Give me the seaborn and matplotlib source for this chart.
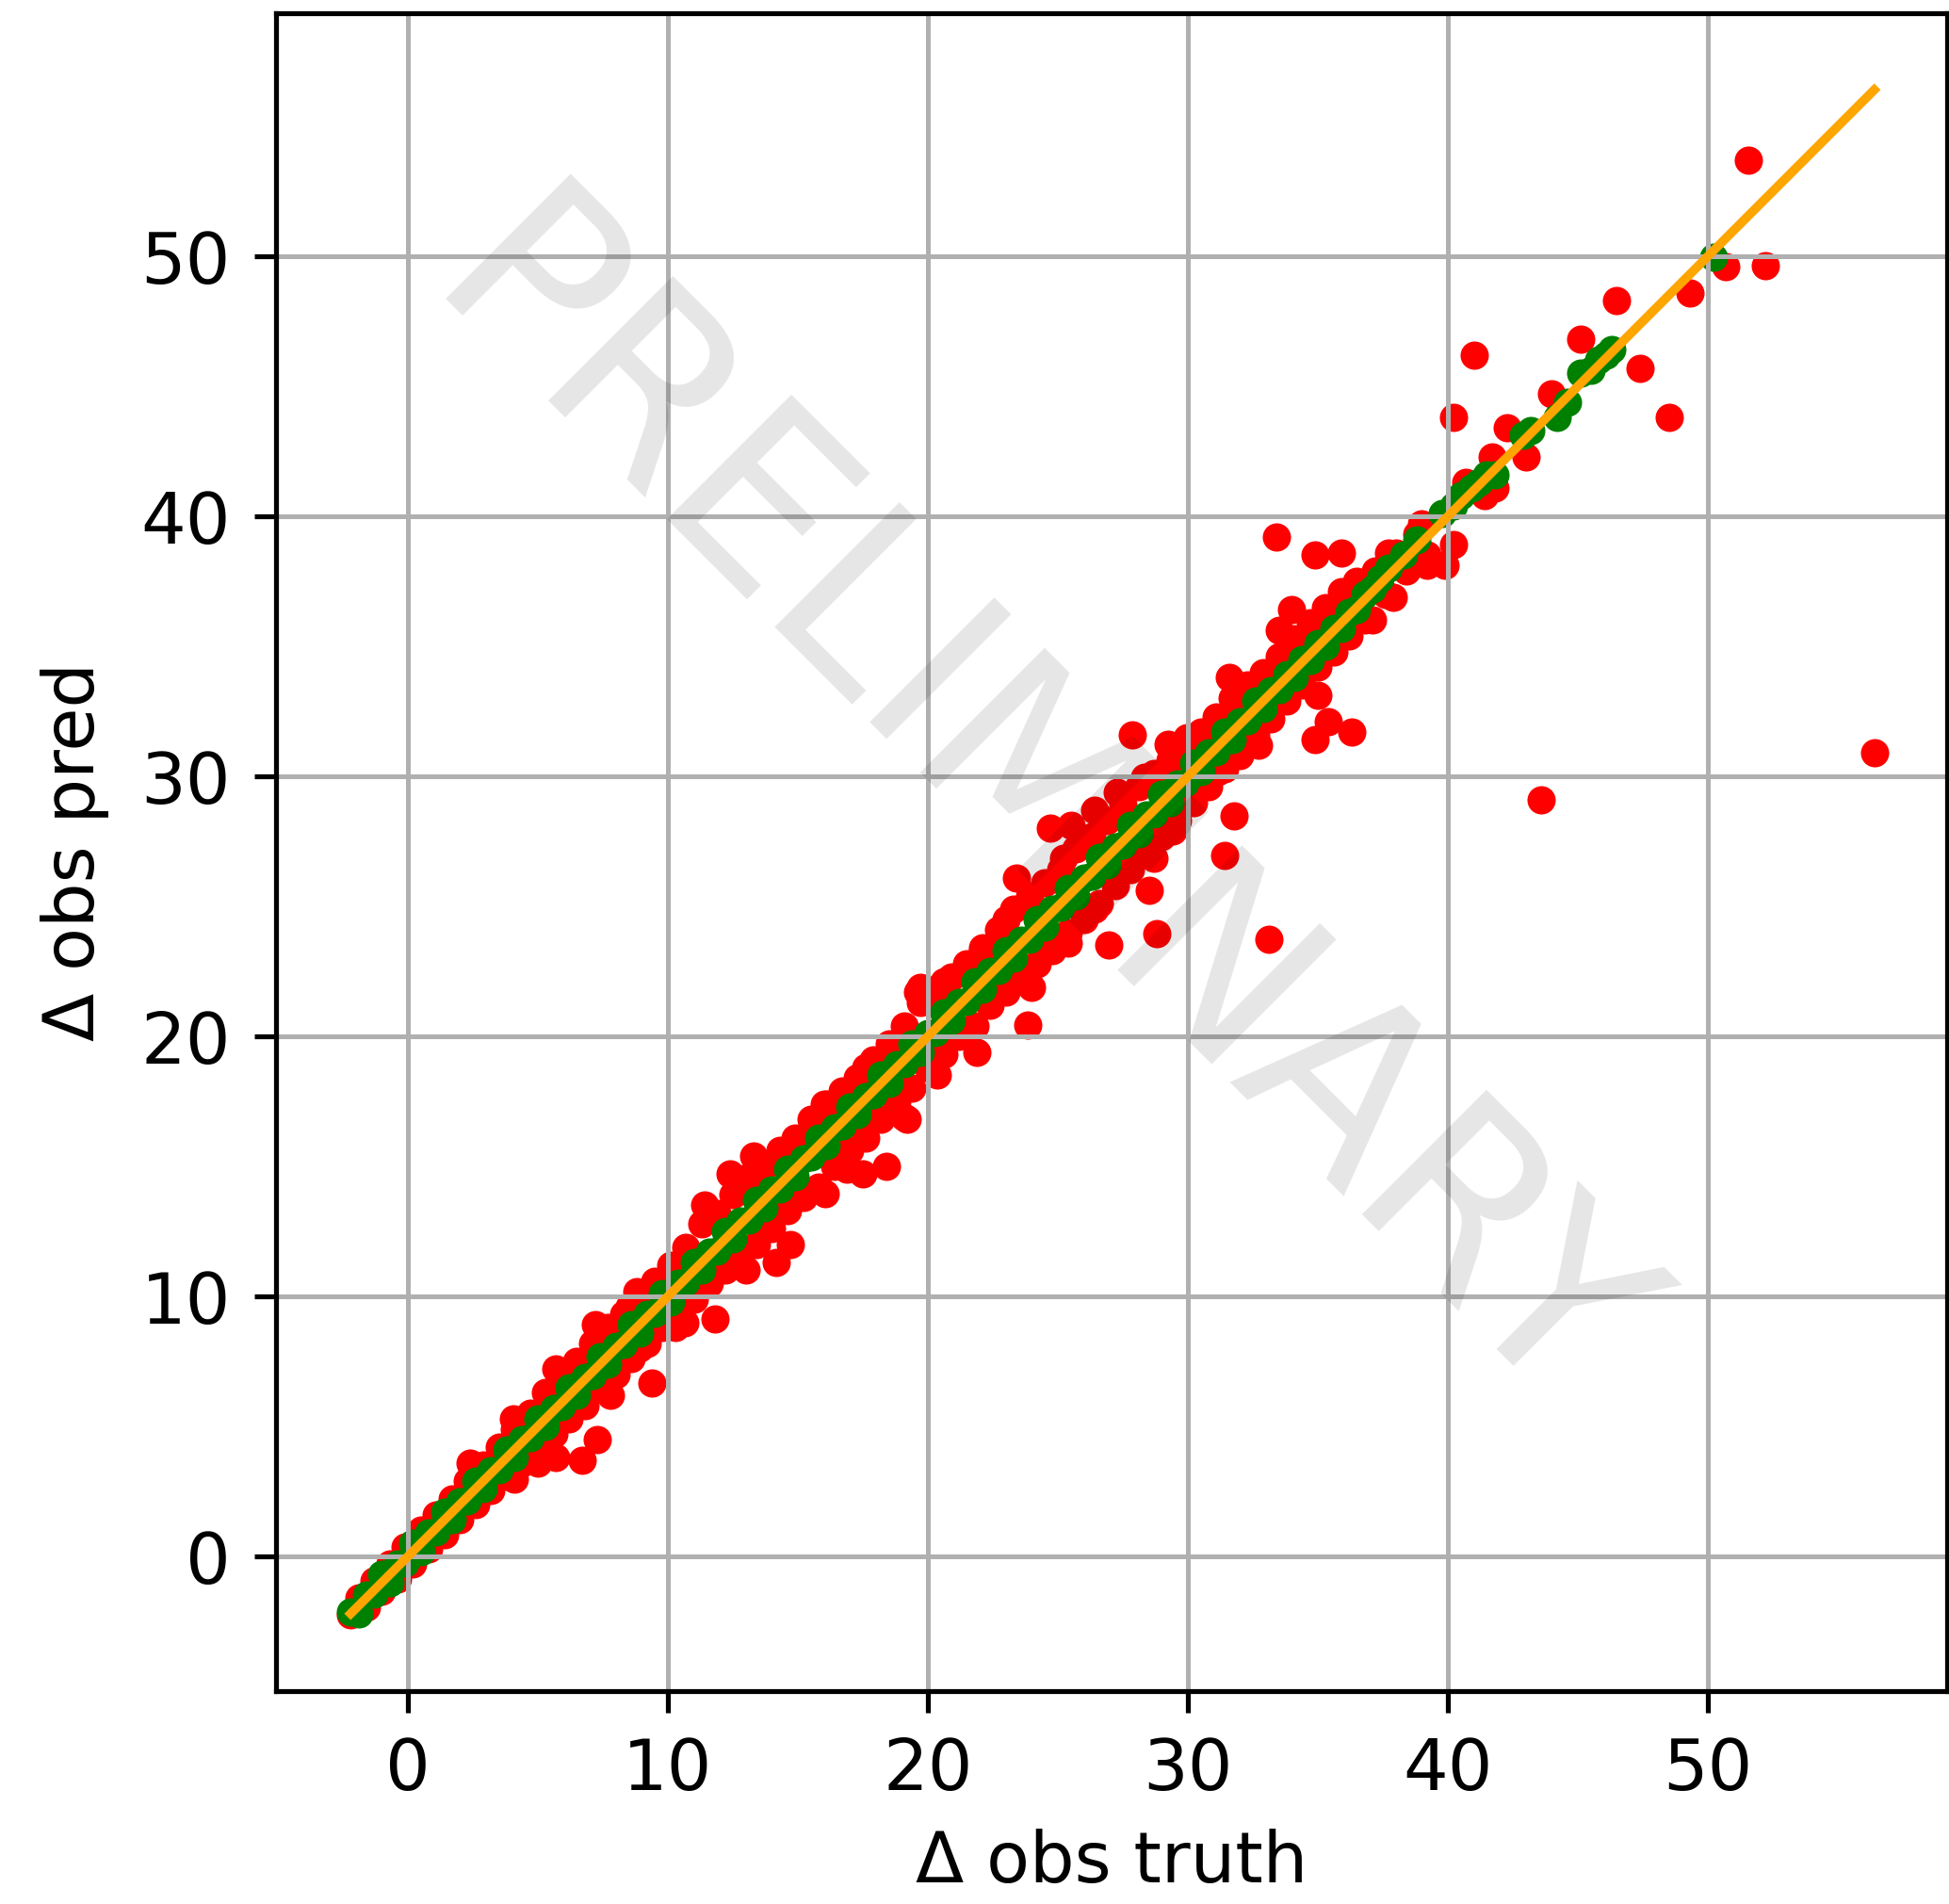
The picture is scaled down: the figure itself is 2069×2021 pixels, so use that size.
import matplotlib
matplotlib.use("Agg")
import matplotlib.pyplot as plt
import seaborn as sns

# ---------------- data ----------------
# dense band of red points around the diagonal
band_truth = [-2.2, -1.9, -1.6, -1.3, -1.0, -0.7, -0.4, -0.1, 0.2, 0.5, 0.8, 1.1, 1.4, 1.7, 2.0, 2.3,
              2.6, 2.9, 3.2, 3.5, 3.8, 4.1, 4.4, 4.7, 5.0, 5.3, 5.6, 5.9, 6.2, 6.5, 6.8, 7.1, 7.4, 7.7,
              8.0, 8.3, 8.6, 8.9, 9.2, 9.5, 9.8, 10.1, 10.4, 10.7, 11.0, 11.3, 11.6, 11.9, 12.2, 12.5,
              12.8, 13.1, 13.4, 13.7, 14.0, 14.3, 14.6, 14.9, 15.2, 15.5, 15.8, 16.1, 16.4, 16.7, 17.0,
              17.3, 17.6, 17.9, 18.2, 18.5, 18.8, 19.1, 19.4, 19.7, 20.0, 20.3, 20.6, 20.9, 21.2, 21.5,
              21.8, 22.1, 22.4, 22.7, 23.0, 23.3, 23.6, 23.9, 24.2, 24.5, 24.8, 25.1, 25.4, 25.7, 26.0,
              26.3, 26.6, 26.9, 27.2, 27.5, 27.8, 28.1, 28.4, 28.7, 29.0, 29.3, 29.6, 29.9, 30.2, 30.5,
              30.8, 31.1, 31.4, 31.7, 32.0, 32.3, 32.6, 32.9, 33.2, 33.5, 33.8, 34.1, 34.4, 34.7, 35.0,
              35.3, 35.6, 35.9, 36.2, 36.5, 36.8, 37.2, 37.6, 38.0, 38.4, 38.8, 39.2]
band_pred = [-2.25, -1.6, -1.95, -0.95, -1.35, -0.3, -0.85, 0.35, -0.3, 1.0, 0.3, 1.6, 0.85, 2.2, 1.4, 2.9,
             2.0, 3.5, 2.55, 4.2, 3.1, 4.9, 3.6, 5.5, 4.2, 6.3, 4.7, 7.0, 5.3, 7.5, 5.8, 8.2, 6.5, 8.8,
             7.0, 9.3, 7.6, 10.0, 8.2, 10.6, 8.8, 11.2, 9.3, 11.9, 9.9, 12.8, 10.5, 13.2, 11.0, 13.9,
             11.5, 14.6, 12.0, 15.0, 12.6, 15.5, 13.3, 16.1, 13.8, 16.8, 14.2, 17.4, 15.0, 17.9, 15.6,
             18.4, 16.1, 19.1, 16.8, 19.7, 17.5, 20.4, 18.0, 21.3, 18.8, 21.8, 19.3, 22.3, 20.0, 22.8,
             20.4, 23.4, 21.2, 24.1, 21.7, 24.9, 22.3, 25.4, 22.8, 25.9, 23.3, 26.4, 24.0, 27.2, 24.5,
             27.7, 25.1, 28.3, 25.8, 28.9, 26.4, 29.6, 27.0, 30.1, 27.7, 30.6, 28.3, 31.2, 29.0, 31.7,
             29.6, 32.3, 30.3, 33.0, 30.8, 33.5, 31.6, 34.0, 32.2, 34.6, 32.9, 35.3, 33.5, 35.9, 34.2,
             36.5, 34.8, 37.1, 35.4, 37.5, 36.0, 37.9, 37.0, 38.6, 37.9, 39.3, 38.5]

# scattered red outliers
out_truth = [51.55, 52.2, 50.7, 49.3, 46.5, 45.1, 47.4, 48.5, 41.0, 40.2, 44.0, 42.3, 43.0, 56.4, 43.6,
             33.4, 34.9, 35.9, 36.3, 34.9, 35.4, 35.0, 34.0, 33.5, 32.7, 37.1, 37.9, 39.2, 39.9, 40.2,
             39.0, 37.7, 40.7, 41.4, 41.8, 41.7, 33.1, 31.6, 31.76, 31.4, 31.15, 30.2,
             27.85, 29.24, 29.96, 28.33, 29.43, 28.7, 28.5, 28.8, 26.95, 25.4, 26.4, 25.5, 24.7, 25.2,
             23.4, 23.84, 23.4, 24.0, 21.9, 27.3, 27.6, 26.4, 23.0, 22.1, 20.6,
             20.35, 19.6, 19.7, 19.1, 19.2, 18.4, 17.5, 17.6, 16.0, 16.05, 16.9, 14.7, 14.15, 13.0,
             13.3, 14.3, 12.4, 11.8, 11.4, 10.65, 10.3, 9.4, 8.9, 8.8, 8.5, 7.8, 7.3, 7.2, 6.7, 5.7,
             5.7, 5.26, 5.0, 4.06, 4.1, 2.4]
out_pred = [53.7, 49.65, 49.6, 48.6, 48.3, 46.8, 45.7, 43.8, 46.2, 43.8, 44.7, 43.4, 42.3, 30.9, 29.1,
            39.2, 38.5, 38.6, 31.7, 31.4, 32.1, 33.1, 36.4, 35.6, 31.2, 36.0, 36.9, 38.1, 38.1, 38.9,
            39.7, 38.6, 41.3, 40.8, 41.1, 42.3, 23.75, 33.8, 28.48, 26.95, 30.2, 29.2,
            31.6, 31.25, 31.5, 29.96, 27.9, 26.85, 25.6, 23.94, 23.5, 23.6, 28.7, 28.1, 28.0, 26.85,
            26.1, 20.45, 22.2, 21.9, 19.4, 29.4, 26.4, 24.9, 24.5, 23.3, 22.1,
            18.5, 21.7, 21.9, 16.87, 16.8, 15.0, 14.7, 18.8, 17.4, 13.95, 14.9, 12.0, 11.3, 11.0,
            15.4, 15.6, 14.7, 9.13, 13.5, 9.0, 8.8, 6.67, 8.0, 10.2, 9.6, 6.2, 4.5, 8.9, 3.7, 3.8,
            7.2, 5.64, 3.6, 5.3, 2.97, 3.6]

# points whose prediction matches the truth (green)
green_truth = [-2.2, -1.9, -1.6, -1.3, -1.0, -0.7, -0.4, -0.1, 0.2, 0.5, 0.8, 1.1, 1.4, 1.7, 2.0, 2.3,
               2.6, 2.9, 3.2, 3.5, 3.8, 4.1, 4.4, 4.7, 5.0, 5.3, 5.6, 5.9, 6.2, 6.5, 6.8, 7.1, 7.4,
               7.7, 8.0, 8.3, 8.6, 8.9, 9.2, 9.5, 9.8, 10.1, 10.4, 10.7, 11.0, 11.3, 11.6, 11.9, 12.2,
               12.5, 12.8, 13.1, 13.4, 13.7, 14.0, 14.3, 14.6, 14.9, 15.2, 15.5, 15.8, 16.1, 16.4,
               16.7, 17.0, 17.3, 17.6, 17.9, 18.2, 18.5, 18.8, 19.1, 19.4, 19.7, 20.0, 20.3, 20.6,
               20.9, 21.2, 21.5, 21.8, 22.1, 22.4, 22.7, 23.0, 23.3, 23.6, 23.9, 24.2, 24.5, 24.8,
               25.1, 25.4, 25.7, 26.0, 26.3, 26.6, 26.9, 27.2, 27.5, 27.8, 28.1, 28.4, 28.7, 29.0,
               29.3, 29.6, 29.9, 30.2, 30.5, 30.8, 31.1, 31.4, 31.7, 32.0, 32.3, 32.6, 32.9, 33.2,
               33.5, 33.8, 34.1, 34.4, 34.7, 35.0, 35.3, 35.6, 35.9, 36.2, 36.5, 36.8, 37.1, 37.4,
               37.7, 38.3, 38.8, 39.8, 40.2, 40.5, 40.9, 41.2, 41.5, 41.8, 42.9, 43.2, 44.2, 44.6,
               45.1, 45.5, 45.8, 46.1, 46.3, 50.2]
green_pred = [-2.15, -2.2, -1.5, -1.45, -0.7, -1.0, -0.3, -0.25, 0.5, 0.2, 0.9, 0.95, 1.7, 1.4, 2.1,
              2.15, 2.9, 2.6, 3.3, 3.35, 4.1, 3.8, 4.5, 4.55, 5.3, 5.0, 5.7, 5.75, 6.5, 6.2, 6.9, 6.95,
              7.7, 7.4, 8.1, 8.15, 8.9, 8.6, 9.3, 9.35, 10.1, 9.8, 10.5, 10.55, 11.3, 11.0, 11.7,
              11.75, 12.5, 12.2, 12.9, 12.95, 13.7, 13.4, 14.1, 14.15, 14.9, 14.6, 15.3, 15.35, 16.1,
              15.8, 16.5, 16.55, 17.3, 17.0, 17.7, 17.75, 18.5, 18.2, 18.9, 18.95, 19.7, 19.4, 20.1,
              20.15, 20.9, 20.6, 21.3, 21.35, 22.1, 21.8, 22.5, 22.55, 23.3, 23.0, 23.7, 23.75, 24.5,
              24.2, 24.9, 24.95, 25.7, 25.4, 26.1, 26.15, 26.9, 26.6, 27.3, 27.35, 28.1, 27.8, 28.5,
              28.55, 29.3, 29.0, 29.7, 29.75, 30.5, 30.2, 30.9, 30.95, 31.7, 31.4, 32.1, 32.15, 32.9,
              32.6, 33.3, 33.35, 33.9, 33.8, 34.5, 34.45, 35.1, 35.0, 35.7, 35.7, 36.3, 36.4, 37.0,
              37.2, 37.6, 38.0, 38.5, 39.1, 40.1, 40.4, 40.8, 41.1, 41.3, 41.6, 41.6, 43.1, 43.3,
              43.8, 44.4, 45.5, 45.6, 46.0, 46.2, 46.4, 49.95]

x_label = "Δ obs truth"
y_label = "Δ obs pred"
watermark = "PRELIMINARY"

# ---------------- figure ----------------
plt.rcParams['font.family'] = ['DejaVu Sans']
fig = plt.figure(figsize=(2069 / 300, 2021 / 300), dpi=300)
ax = fig.add_axes([0.1415, 0.1118, 0.8575, 0.8813])

red_truth = band_truth + out_truth
red_pred = band_pred + out_pred

sns.scatterplot(x=red_truth, y=red_pred, color="red", s=52, linewidth=0, ax=ax)
sns.scatterplot(x=green_truth, y=green_pred, color="green", s=52, linewidth=0, ax=ax)

lo = min(red_truth + green_truth)
hi = max(red_truth + green_truth)
sns.lineplot(x=[lo, hi], y=[lo, hi], color="orange", linewidth=2.3, ax=ax)

ax.set_xlim(-5.08, 59.2)
ax.set_ylim(-5.18, 59.35)
ax.set_xticks([0, 10, 20, 30, 40, 50])
ax.set_yticks([0, 10, 20, 30, 40, 50])
ax.grid(True, color="#b0b0b0", linewidth=1.2)
ax.set_axisbelow("line")

for sp in ax.spines.values():
    sp.set_linewidth(1.25)
ax.tick_params(axis="both", labelsize=18, length=5.5, width=1.25, pad=6)
ax.set_xlabel(x_label, fontsize=18, labelpad=6)
ax.set_ylabel(y_label, fontsize=18, labelpad=8)

ax.text(0.453, 0.522, watermark, transform=ax.transAxes, fontsize=61.5, color="black",
        alpha=0.1, rotation=-45, ha="center", va="center", zorder=10)

fig.savefig("out.png", dpi=300)
